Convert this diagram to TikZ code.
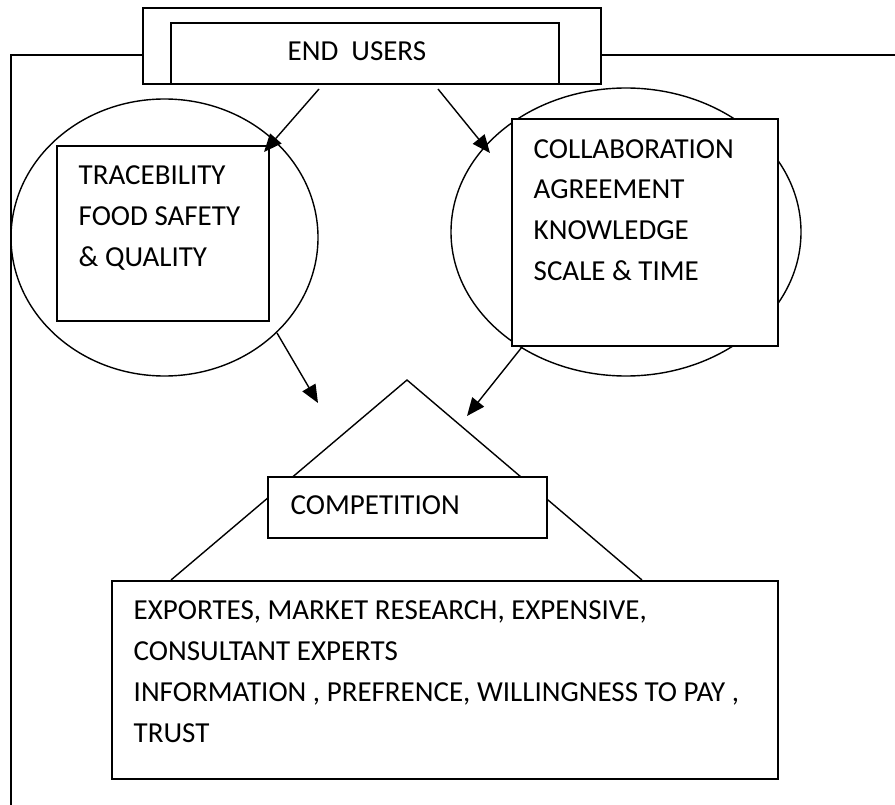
\documentclass[tikz,border=0pt]{standalone}
\usepackage{fontspec}
\setmainfont{Carlito}
\usetikzlibrary{arrows.meta,shapes.geometric}
\begin{document}
\begin{tikzpicture}[x=1pt,y=-1pt,
  line width=1.4pt,
  box/.style={draw, fill=white, rectangle, inner sep=0pt, outer sep=0pt},
  oval/.style={draw, ellipse, inner sep=0pt, outer sep=0pt},
  label/.style={anchor=base west, inner sep=0pt, align=left,
    font=\fontsize{29}{41}\selectfont},
  flow/.style={-{Triangle[length=18pt,width=15pt]}, line width=1.4pt}]
\useasboundingbox (0,0) rectangle (895,805);

% frame running round the left side and along the top
\coordinate (frameBL) at (11,805);
\coordinate (frameTL) at (11,55);
\coordinate (frameTR) at (895,55);

% END USERS header
\node[box, minimum width=458pt, minimum height=76pt] (euout) at (372,46) {};
\node[box, minimum width=388pt, minimum height=61pt] (euin) at (365,53.5) {};
\draw (frameBL) -- (frameTL) -- (frameTL -| euout.west);
\draw (frameTL -| euout.east) -- (frameTR);

% the two groups of factors
\node[oval, minimum width=307pt, minimum height=277pt] (lell) at (164.5,237.5) {};
\node[oval, minimum width=350pt, minimum height=288pt] (rell) at (626,232) {};
\node[box, minimum width=212pt, minimum height=175pt] (lrect) at (163,233.5) {};
\node[box, minimum width=266pt, minimum height=227pt] (rrect) at (645,232.5) {};

% arrows
\coordinate (a1s) at (319,89);  \coordinate (a1e) at (264,152);
\coordinate (a2s) at (438,89);  \coordinate (a2e) at (490,153);
\coordinate (a3s) at (277,333); \coordinate (a3e) at (318,403);
\coordinate (a4s) at (522,347); \coordinate (a4e) at (467,416);
\draw[flow] (a1s) -- (a1e);
\draw[flow] (a2s) -- (a2e);
\draw[flow] (a3s) -- (a3e);
\draw[flow] (a4s) -- (a4e);

% competition roof
\coordinate (roofL) at (171,580);
\coordinate (apex) at (407,380);
\coordinate (roofR) at (642,580);
\draw (roofL) -- (apex) -- (roofR);
\node[box, minimum width=279pt, minimum height=61pt] (comp) at (407.5,507.5) {};
\node[box, minimum width=666pt, minimum height=198pt] (base) at (445,680) {};

% texts (multi-line labels sit on the baseline of their last line)
\node[label] (euText) at (287,61) {END\hspace{13pt}USERS};
\node[label] (lText) at (78,267) {TRACEBILITY\\FOOD SAFETY\\\& QUALITY};
\node[label] (rText) at (533,281) {COLLABORATION\\AGREEMENT\\KNOWLEDGE\\SCALE \& TIME};
\node[label] (compText) at (290,514) {COMPETITION};
\node[label] (baseText) at (133,742) {EXPORTES, MARKET RESEARCH, EXPENSIVE,\\CONSULTANT EXPERTS\\INFORMATION , PREFRENCE, WILLINGNESS TO PAY ,\\TRUST};
\end{tikzpicture}
\end{document}
